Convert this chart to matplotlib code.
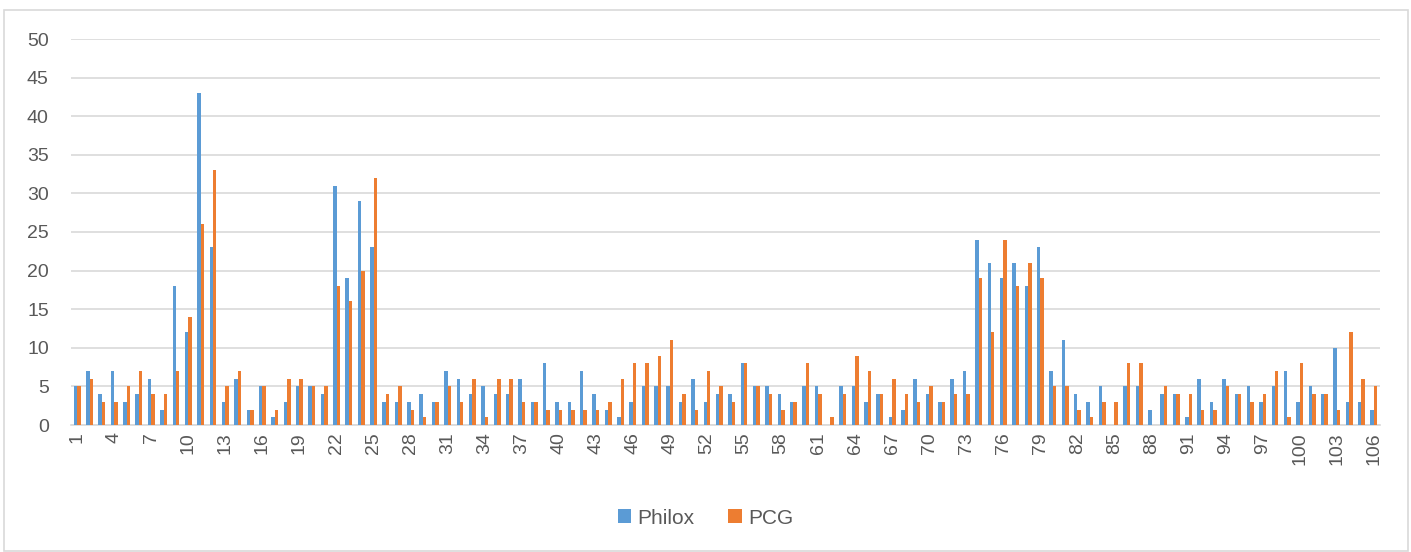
import matplotlib
matplotlib.use("Agg")
import matplotlib.pyplot as plt
import numpy as np
from matplotlib.patches import Rectangle

plt.rcParams['font.family'] = ['Liberation Sans', 'DejaVu Sans']

categories = list(range(1, 107))
philox = [5, 7, 4, 7, 3, 4, 6, 2, 18, 12, 43, 23, 3, 6, 2, 5, 1, 3, 5, 5,
          4, 31, 19, 29, 23, 3, 3, 3, 4, 3, 7, 6, 4, 5, 4, 4, 6, 3, 8, 3,
          3, 7, 4, 2, 1, 3, 5, 5, 5, 3, 6, 3, 4, 4, 8, 5, 5, 4, 3, 5,
          5, 0, 5, 5, 3, 4, 1, 2, 6, 4, 3, 6, 7, 24, 21, 19, 21, 18, 23, 7,
          11, 4, 3, 5, 0, 5, 5, 2, 4, 4, 1, 6, 3, 6, 4, 5, 3, 5, 7, 3,
          5, 4, 10, 3, 3, 2]
pcg = [5, 6, 3, 3, 5, 7, 4, 4, 7, 14, 26, 33, 5, 7, 2, 5, 2, 6, 6, 5,
       5, 18, 16, 20, 32, 4, 5, 2, 1, 3, 5, 3, 6, 1, 6, 6, 3, 3, 2, 2,
       2, 2, 2, 3, 6, 8, 8, 9, 11, 4, 2, 7, 5, 3, 8, 5, 4, 2, 3, 8,
       4, 1, 4, 9, 7, 4, 6, 4, 3, 5, 3, 4, 4, 19, 12, 24, 18, 21, 19, 5,
       5, 2, 1, 3, 3, 8, 8, 0, 5, 4, 4, 2, 2, 5, 4, 3, 4, 7, 1, 8,
       4, 4, 2, 12, 6, 5]
series_names = ["Philox", "PCG"]
y_ticks = list(range(0, 51, 5))

BLUE = "#5B9BD5"
ORANGE = "#ED7D31"
GRID = "#D9D9D9"
TEXT = "#595959"

fig = plt.figure(figsize=(14.11, 5.52), dpi=100)
ax = fig.add_axes([71 / 1411, 1 - 425 / 552, 1309 / 1411, (425 - 39) / 552])

x = np.array(categories, dtype=float)
w = 0.28
ax.bar(x - w / 2, philox, width=w, color=BLUE, label=series_names[0], zorder=3)
ax.bar(x + w / 2, pcg, width=w, color=ORANGE, label=series_names[1], zorder=3)

ax.set_xlim(0.5, 106.5)
ax.set_ylim(0, 50)
ax.set_yticks(y_ticks)
ax.set_yticklabels([str(v) for v in y_ticks], fontsize=14, color=TEXT)
xt = categories[::3]
ax.set_xticks(xt)
ax.set_xticklabels([str(v) for v in xt], rotation=90, fontsize=14, color=TEXT)
ax.tick_params(axis="y", length=0, pad=16)
ax.tick_params(axis="x", length=0, pad=5)
ax.yaxis.grid(True, color=GRID, linewidth=1.2, zorder=0)
ax.set_axisbelow(True)
for s in ["top", "right", "left"]:
    ax.spines[s].set_visible(False)
ax.spines["bottom"].set_color(GRID)
ax.spines["bottom"].set_linewidth(1.2)

leg = fig.legend(loc="center", bbox_to_anchor=(0.5, 1 - 518 / 552), ncol=2,
                 frameon=False, fontsize=15, handlelength=0.65, handleheight=0.65,
                 handletextpad=0.3, columnspacing=1.6)
for t in leg.get_texts():
    t.set_color(TEXT)

fig.patches.append(Rectangle((4 / 1411, 1 / 552), 1404 / 1411, 541 / 552,
                             transform=fig.transFigure, fill=False,
                             edgecolor=GRID, linewidth=1.2))

fig.savefig("out.png", dpi=100)
